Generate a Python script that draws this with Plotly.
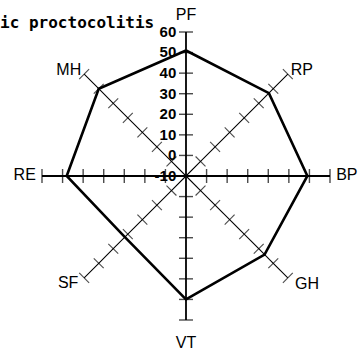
import plotly.graph_objects as go

# Scale scores for each domain
categories = ["PF", "RP", "BP", "GH", "VT", "SF", "RE", "MH"]
scores = [51, 47, 49, 44, 50, 32, 48, 50]
tick_values = [-10, 0, 10, 20, 30, 40, 50, 60]
tick_labels = ["-10", "0", "10", "20", "30", "40", "50", "60"]
title_text = "Idiopathic proctocolitis"

# Where each domain name sits relative to the end of its spoke
label_r = [64, 62, 63, 65, 68, 64, 63, 62]
label_pos = ["top center", "middle right", "middle right", "middle right",
             "bottom center", "middle left", "middle left", "middle left"]

R_MIN, R_MAX = -10, 69   # headroom past 60 keeps the domain names in range

fig = go.Figure()

# Spokes with cross ticks at each scale step
for i, cat in enumerate(categories):
    ang = i * 45
    hv = ang % 90 == 0
    fig.add_trace(go.Scatterpolar(
        r=tick_values,
        theta=[cat] * len(tick_values),
        mode="lines+markers",
        line=dict(color="black", width=1.8 if hv else 1.1),
        marker=dict(symbol="line-ew", size=[0] + [10] * (len(tick_values) - 1),
                    angle=ang, color="black",
                    line=dict(color="black", width=1.4 if hv else 1.1)),
        hoverinfo="skip", showlegend=False, cliponaxis=False,
    ))

# Profile polygon
fig.add_trace(go.Scatterpolar(
    r=scores + scores[:1],
    theta=categories + categories[:1],
    mode="lines",
    line=dict(color="black", width=2.6),
    showlegend=False, cliponaxis=False,
))

# Domain names beyond the spoke ends
fig.add_trace(go.Scatterpolar(
    r=label_r, theta=categories, text=categories,
    mode="text", textposition=label_pos,
    textfont=dict(family="Liberation Sans", size=16, color="black"),
    hoverinfo="skip", showlegend=False, cliponaxis=False,
))

W, H = 364, 356
cx, cy = 186, 176
R = 144 * (R_MAX - R_MIN) / (60 - R_MIN)
fig.update_layout(
    width=W, height=H,
    margin=dict(l=0, r=0, t=0, b=0),
    paper_bgcolor="white", plot_bgcolor="white",
    polar=dict(
        bgcolor="rgba(0,0,0,0)",
        domain=dict(x=[(cx - R) / W, (cx + R) / W],
                    y=[(H - cy - R) / H, (H - cy + R) / H]),
        angularaxis=dict(
            type="category", categoryorder="array", categoryarray=categories,
            rotation=90, direction="clockwise",
            showgrid=False, showline=False, ticks="", showticklabels=False,
        ),
        radialaxis=dict(
            range=[R_MIN, R_MAX], angle=90, side="counterclockwise",
            showgrid=False, showline=False,
            ticks="outside", ticklen=4, tickcolor="rgba(0,0,0,0)",
            tickangle=90,
            tickvals=tick_values, ticktext=tick_labels,
            tickfont=dict(family="Liberation Sans", size=15, color="black",
                          weight="bold"),
        ),
    ),
    annotations=[dict(
        text=title_text, xref="paper", yref="paper",
        x=156 / W, y=1 - 22 / H, xanchor="right", yanchor="middle",
        showarrow=False,
        font=dict(family="DejaVu Sans Mono", size=16, color="black",
                  weight="bold"),
    )],
)

fig.write_html("out.html")
